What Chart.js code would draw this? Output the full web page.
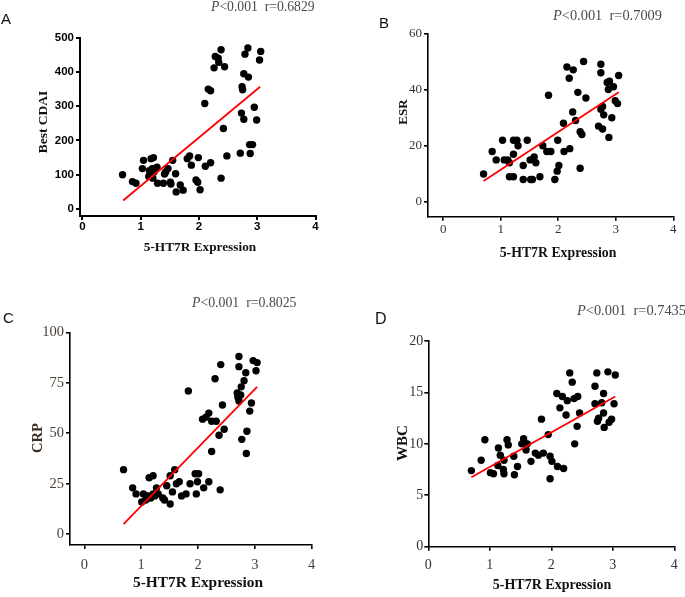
<!DOCTYPE html>
<html>
<head>
<meta charset="utf-8">
<script src="https://cdn.jsdelivr.net/npm/chart.js@4.4.0/dist/chart.umd.min.js"></script>
<style>
  html, body { margin:0; padding:0; background:#fff; }
  #fig { position:relative; width:685px; height:597px; overflow:hidden; background:#fff; }
  canvas { position:absolute; }
  .txt { position:absolute; white-space:nowrap; line-height:1; }
  .letter { font-family:"Liberation Sans", Arial, sans-serif; color:#111; }
  .stat { font-family:"Liberation Serif", "Times New Roman", serif; color:#4a4a4a; }
  .ttl { font-family:"Liberation Serif", "Times New Roman", serif; font-weight:bold; color:#111; transform:translate(-50%,-50%); }
  .rot { transform:translate(-50%,-50%) rotate(-90deg); }
</style>
</head>
<body>
<div id="fig">
  <canvas id="cA" width="340" height="270" style="left:0;top:0"></canvas>
  <canvas id="cB" width="345" height="270" style="left:340px;top:0"></canvas>
  <canvas id="cC" width="340" height="317" style="left:0;top:280px"></canvas>
  <canvas id="cD" width="345" height="317" style="left:340px;top:280px"></canvas>

  <div class="txt letter" style="left:1px;top:11px;font-size:15px">A</div>
  <div class="txt letter" style="left:379px;top:15px;font-size:15px">B</div>
  <div class="txt letter" style="left:3px;top:310px;font-size:15px">C</div>
  <div class="txt letter" style="left:375px;top:311px;font-size:16px">D</div>

  <div class="txt stat" style="left:211px;top:0px;font-size:13.7px"><i>P</i>&lt;0.001&nbsp; r=0.6829</div>
  <div class="txt stat" style="left:553px;top:8px;font-size:14.4px"><i>P</i>&lt;0.001&nbsp; r=0.7009</div>
  <div class="txt stat" style="left:192px;top:296px;font-size:13.8px"><i>P</i>&lt;0.001&nbsp; r=0.8025</div>
  <div class="txt stat" style="left:577px;top:303px;font-size:14.4px"><i>P</i>&lt;0.001&nbsp; r=0.7435</div>

  <div class="txt ttl rot" style="left:43px;top:122px;font-size:13.5px">Best CDAI</div>
  <div class="txt ttl" style="left:200px;top:247px;font-size:13.3px">5-HT7R Expression</div>
  <div class="txt ttl rot" style="left:402px;top:112px;font-size:13px">ESR</div>
  <div class="txt ttl" style="left:558px;top:253px;font-size:13.8px">5-HT7R Expression</div>
  <div class="txt ttl rot" style="left:37px;top:438px;font-size:14.6px;color:#3d2b1f">CRP</div>
  <div class="txt ttl" style="left:198px;top:582px;font-size:15.4px">5-HT7R Expression</div>
  <div class="txt ttl rot" style="left:402px;top:443px;font-size:15px">WBC</div>
  <div class="txt ttl" style="left:552px;top:585px;font-size:14px">5-HT7R Expression</div>
</div>

<script>
// tick values
const exprTicks = [0, 1, 2, 3, 4];
const cdaiTicks = [0, 100, 200, 300, 400, 500];
const esrTicks = [0, 20, 40, 60];
const crpTicks = [0, 25, 50, 75, 100];
const wbcTicks = [0, 5, 10, 15, 20];

// A: Best CDAI vs 5-HT7R
const cdaiX = [0.69,0.86,0.92,1.03,1.05,1.14,1.15,1.18,1.2,1.22,1.21,1.23,1.28,1.29,1.39,1.41,1.43,1.47,1.51,1.52,1.55,1.6,1.61,1.68,1.73,1.8,1.84,1.87,1.95,1.98,1.99,2.02,2.1,2.11,2.16,2.2,2.2,2.26,2.28,2.33,2.34,2.38,2.44,2.42,2.48,2.38,2.71,2.73,2.74,2.75,2.77,2.77,2.79,2.84,2.85,2.87,2.88,2.92,2.95,2.99,3.04,3.06];
const cdaiY = [100,80,75,118,142,95,112,147,118,150,90,108,122,75,75,102,108,118,78,73,142,103,50,70,55,147,155,128,85,78,150,56,308,125,350,345,135,412,445,440,428,465,415,235,155,90,163,280,357,348,395,262,452,470,385,188,162,188,297,260,435,460];
const cdaiFitX = [0.7, 3.05];
const cdaiFitY = [25, 357];

// B: ESR
const esrX = [0.7,0.85,0.92,1.03,1.06,1.12,1.15,1.15,1.22,1.22,1.28,1.22,1.3,1.39,1.39,1.46,1.52,1.55,1.51,1.58,1.61,1.68,1.73,1.8,1.87,1.83,1.94,1.98,2.01,1.99,2.09,2.1,2.2,2.15,2.19,2.26,2.25,2.3,2.34,2.38,2.41,2.38,2.44,2.48,2.7,2.74,2.74,2.74,2.77,2.77,2.79,2.85,2.87,2.89,2.88,2.93,2.96,2.99,3.03,3.05];
const esrY = [10,18,15,22,15,15,14,9,9,22,22,17,20,13,8,22,8,8,15,16,14,9,20,18,18,38,8,11,13,22,28,18,19,48,44,47,32,29,39,25,24,12,50,37,27,49,46,33,34,26,31,42.5,40,43,23,30,41,36,35,45];
const esrFitX = [0.7, 3.05];
const esrFitY = [7.5, 39];

// C: CRP
const crpX = [0.69,0.85,0.91,1.04,1.01,1.08,1.12,1.14,1.21,1.21,1.17,1.24,1.27,1.3,1.38,1.41,1.45,1.51,1.51,1.55,1.59,1.62,1.67,1.71,1.79,1.83,1.86,1.95,1.99,2.01,1.97,2.1,2.19,2.08,2.14,2.19,2.24,2.24,2.3,2.32,2.37,2.39,2.4,2.43,2.46,2.69,2.7,2.72,2.72,2.72,2.75,2.76,2.77,2.81,2.84,2.85,2.86,2.91,2.94,2.97,3.02,3.04];
const crpY = [32,23,20,20,16,17,19,28,29,20,18,19,23,20,18,17,24,15,29,21,32,25,26,19,20,71,25,30,26,30,20,23,26,57,58,60,56,41,77,56,49,22,84,64,52,70,68,88,83,66,69,73,47,76,80,40,51,61,65,86,81,85];
const crpFitX = [0.69, 3.04];
const crpFitY = [5, 73];

// D: WBC
const wbcX = [0.7,0.86,0.92,1.01,1.06,1.13,1.14,1.17,1.22,1.23,1.23,1.28,1.3,1.4,1.39,1.45,1.52,1.55,1.56,1.59,1.61,1.67,1.74,1.79,1.84,1.87,1.95,1.98,1.98,2.01,2.1,2.2,2.09,2.14,2.18,2.24,2.26,2.3,2.34,2.37,2.38,2.42,2.43,2.46,2.71,2.71,2.74,2.75,2.77,2.82,2.85,2.85,2.86,2.92,2.94,2.98,3.02,3.04];
const wbcY = [7.4,8.4,10.4,7.2,7.1,7.9,9.6,8.9,7.5,7.1,8.4,10.4,9.9,7.0,8.8,7.8,10.0,10.5,10.1,9.4,10.0,8.3,9.1,8.9,12.4,9.1,10.9,8.8,6.6,8.3,7.8,7.6,14.9,13.5,14.6,12.8,14.2,16.9,16.0,14.4,10.0,11.7,14.6,13.0,15.6,13.9,16.9,12.2,12.5,14.0,14.9,13.0,11.6,17.0,12.1,12.4,13.9,16.7];
const wbcFitX = [0.7, 3.04];
const wbcFitY = [6.75, 14.6];

const pts = (xs, ys) => xs.map((x,i)=>({x, y: ys[i]}));

function panel(id, p){
  const tickOpts = (pad)=>({ font:p.font, color:p.tickColor, padding:pad });
  const grid = { display:true, drawOnChartArea:false, drawTicks:true, tickLength:4, color:'#000', lineWidth:p.bw };
  const border = { display:true, color:'#000', width:p.bw };
  new Chart(document.getElementById(id), {
    type:'scatter',
    data:{ datasets:[
      { type:'line', data:pts(p.fitX, p.fitY), borderColor:'#ff0000', borderWidth:1.8, pointRadius:0, showLine:true, fill:false, order:0 },
      { data:pts(p.xs, p.ys), backgroundColor:'#000', borderWidth:0, pointRadius:3.7, pointHoverRadius:3.7, order:1 }
    ]},
    options:{
      responsive:false, animation:false, events:[],
      layout:{ autoPadding:false, padding:{ left:0, top:p.top, right:p.right, bottom:0 } },
      plugins:{ legend:{display:false}, tooltip:{enabled:false} },
      scales:{
        x:{ type:'linear', min:p.xmin, max:4, grid, border, ticks:tickOpts(p.xpad),
            afterBuildTicks:s=>{ s.ticks = exprTicks.map(v=>({value:v})); },
            afterFit:s=>{ s.height = p.xh; } },
        y:{ type:'linear', min:p.ymin, max:p.ymax, grid, border, ticks:tickOpts(p.ypad),
            afterBuildTicks:s=>{ s.ticks = p.yticks.map(v=>({value:v})); },
            afterFit:s=>{ s.width = p.yw; } }
      }
    }
  });
}

const serif = (sz)=>({ family:'"Liberation Serif", "Times New Roman", serif', size:sz });

panel('cA', { xs:cdaiX, ys:cdaiY, fitX:cdaiFitX, fitY:cdaiFitY, yticks:cdaiTicks,
  xmin:-0.04, ymin:-20.4, ymax:500, top:37.7, right:24.5, yw:80, xh:54, bw:2,
  font:{ family:'"Liberation Sans", Arial, sans-serif', size:11.5, weight:'bold' }, tickColor:'#000', xpad:0, ypad:2 });

panel('cB', { xs:esrX, ys:esrY, fitX:esrFitX, fitY:esrFitY, yticks:esrTicks,
  xmin:-0.266, ymin:-5.2, ymax:60, top:33.3, right:11.7, yw:88, xh:53.3, bw:1.6,
  font:serif(13), tickColor:'#333', xpad:1, ypad:2 });

panel('cC', { xs:crpX, ys:crpY, fitX:crpFitX, fitY:crpFitY, yticks:crpTicks,
  xmin:-0.252, ymin:-5.3, ymax:100, top:52.3, right:28.3, yw:70, xh:52, bw:1.6,
  font:serif(14.5), tickColor:'#4a3f36', xpad:7, ypad:2 });

panel('cD', { xs:wbcX, ys:wbcY, fitX:wbcFitX, fitY:wbcFitY, yticks:wbcTicks,
  xmin:0, ymin:0, ymax:20, top:61, right:10.7, yw:88.3, xh:50.3, bw:1.6,
  font:serif(14), tickColor:'#333', xpad:6, ypad:1 });
</script>
</body>
</html>
